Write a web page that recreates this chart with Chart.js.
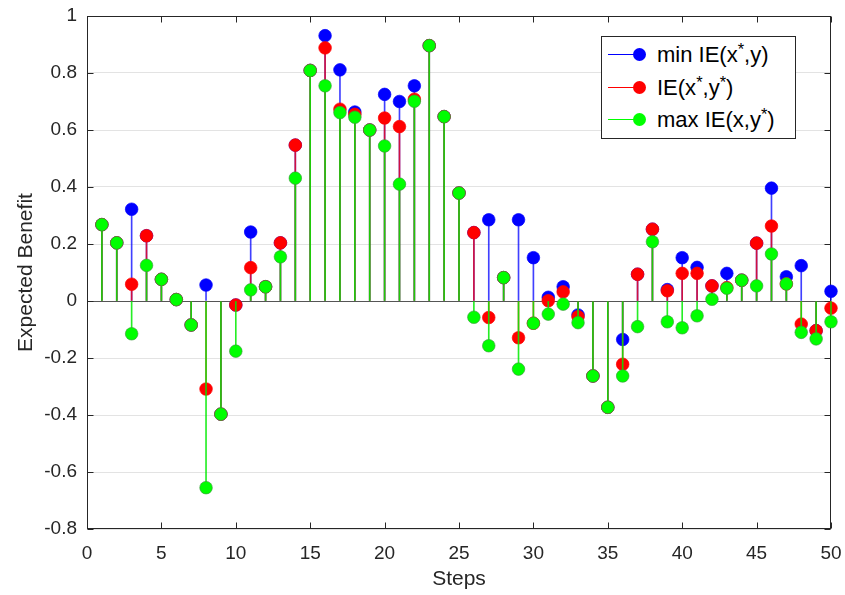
<!DOCTYPE html>
<html>
<head>
<meta charset="utf-8">
<script src="https://cdn.jsdelivr.net/npm/chart.js@4"></script>
<style>
  html, body { margin: 0; padding: 0; background: #fff; }
  #wrap { position: relative; width: 845px; height: 595px; }
  #legend {
    position: absolute; left: 601px; top: 36px; width: 193px; height: 101px;
    border: 1px solid #262626; background: #fff;
    font-family: "Liberation Sans", Arial, sans-serif; font-size: 22px; color: #000;
  }
  .row { position: absolute; left: 0; width: 100%; height: 32px; line-height: 32px; white-space: nowrap; }
  .sym { position: absolute; left: 6px; top: 15px; width: 31px; height: 1px; }
  .dot { position: absolute; left: 25px; top: -6px; width: 13px; height: 13px; border-radius: 50%; }
  .lbl { position: absolute; left: 55px; top: 0; }
  sup { font-size: 0.75em; vertical-align: 0; position: relative; top: -0.45em; }
</style>
</head>
<body>
<div id="wrap">
  <canvas id="chart" width="845" height="595"></canvas>
  <div id="legend">
    <div class="row" style="top:2px"><div class="sym" style="background:#0000ff"><div class="dot" style="background:#0000ff"></div></div><span class="lbl">min IE(x<sup>*</sup>,y)</span></div>
    <div class="row" style="top:35px"><div class="sym" style="background:#ff0000"><div class="dot" style="background:#ff0000"></div></div><span class="lbl">IE(x<sup>*</sup>,y<sup>*</sup>)</span></div>
    <div class="row" style="top:67px"><div class="sym" style="background:#00ff00"><div class="dot" style="background:#00ff00"></div></div><span class="lbl">max IE(x,y<sup>*</sup>)</span></div>
  </div>
</div>
<script>
// Steps of the game
const steps = [1, 2, 3, 4, 5, 6, 7, 8, 9, 10,
               11, 12, 13, 14, 15, 16, 17, 18, 19, 20,
               21, 22, 23, 24, 25, 26, 27, 28, 29, 30,
               31, 32, 33, 34, 35, 36, 37, 38, 39, 40,
               41, 42, 43, 44, 45, 46, 47, 48, 49, 50];

// min IE(x*,y)
const minIE = [0.268, 0.204, 0.322, 0.229, 0.076, 0.005, -0.084, 0.056, -0.397, -0.014,
               0.242, 0.050, 0.204, 0.547, 0.809, 0.931, 0.811, 0.663, 0.600, 0.725,
               0.700, 0.755, 0.896, 0.647, 0.379, 0.240, 0.285, 0.082, 0.285, 0.152,
               0.013, 0.050, -0.049, -0.263, -0.373, -0.135, 0.094, 0.252, 0.040, 0.152,
               0.118, 0.053, 0.097, 0.073, 0.203, 0.396, 0.085, 0.124, -0.104, 0.034];

// IE(x*,y*)
const eqIE = [0.268, 0.204, 0.059, 0.229, 0.076, 0.005, -0.084, -0.309, -0.397, -0.014,
              0.117, 0.050, 0.204, 0.547, 0.809, 0.888, 0.673, 0.655, 0.600, 0.642,
              0.612, 0.708, 0.896, 0.647, 0.379, 0.240, -0.058, 0.082, -0.129, -0.078,
              0.001, 0.032, -0.055, -0.263, -0.373, -0.222, 0.094, 0.252, 0.036, 0.097,
              0.097, 0.053, 0.047, 0.073, 0.203, 0.263, 0.060, -0.081, -0.104, -0.025];

// max IE(x,y*)
const maxIE = [0.268, 0.204, -0.115, 0.125, 0.076, 0.005, -0.084, -0.655, -0.397, -0.176,
               0.039, 0.050, 0.155, 0.431, 0.809, 0.755, 0.661, 0.645, 0.600, 0.544,
               0.410, 0.701, 0.896, 0.647, 0.379, -0.057, -0.157, 0.082, -0.239, -0.078,
               -0.046, -0.011, -0.076, -0.263, -0.373, -0.263, -0.090, 0.208, -0.073, -0.094,
               -0.052, 0.006, 0.045, 0.073, 0.053, 0.165, 0.060, -0.110, -0.133, -0.073];

const xTicks = [0, 5, 10, 15, 20, 25, 30, 35, 40, 45, 50];
const yTicks = [-0.8, -0.6, -0.4, -0.2, 0, 0.2, 0.4, 0.6, 0.8, 1];

const FONT = '"Liberation Sans", Arial, sans-serif';
const AXIS = '#262626';

const pts = vals => steps.map((s, i) => ({ x: s, y: vals[i] }));

function stem(vals, color, order) {
  return {
    type: 'bar', data: pts(vals), backgroundColor: color, borderWidth: 0,
    barThickness: 1, grouped: false, order: order, clip: false
  };
}
function marks(vals, color, edge, order) {
  return {
    type: 'scatter', data: pts(vals), backgroundColor: color, borderColor: edge,
    borderWidth: 0.7, pointRadius: 6.3, pointHoverRadius: 6.3, order: order, clip: false
  };
}

// axes box with inward tick marks on all four sides
const frame = {
  id: 'frame',
  beforeDatasetsDraw(chart) {
    const { ctx, chartArea: a, scales } = chart;
    ctx.save();
    ctx.strokeStyle = AXIS;
    ctx.lineWidth = 1;
    const L = Math.round(a.left) + 0.5, R = Math.round(a.right) - 0.5;
    const T = Math.round(a.top) + 0.5, B = Math.round(a.bottom) - 0.5;
    ctx.strokeRect(L, T, R - L, B - T);
    ctx.beginPath();
    const len = 6;
    xTicks.forEach(v => {
      const px = Math.round(scales.x.getPixelForValue(v)) + 0.5;
      ctx.moveTo(px, B); ctx.lineTo(px, B - len);
      ctx.moveTo(px, T); ctx.lineTo(px, T + len);
    });
    yTicks.forEach(v => {
      const py = Math.round(scales.y.getPixelForValue(v)) + 0.5;
      ctx.moveTo(L, py); ctx.lineTo(L + len, py);
      ctx.moveTo(R, py); ctx.lineTo(R - len, py);
    });
    ctx.stroke();
    ctx.restore();
  }
};

new Chart(document.getElementById('chart'), {
  type: 'bar',
  data: {
    datasets: [
      stem(minIE, 'rgba(0,0,255,0.75)', 6),
      marks(minIE, '#0000ff', '#0000ff', 5),
      stem(eqIE, 'rgba(255,0,0,0.75)', 4),
      marks(eqIE, '#ff0000', '#ff0000', 3),
      stem(maxIE, 'rgba(0,235,0,0.85)', 2),
      marks(maxIE, '#00ff00', 'rgba(60,150,60,0.9)', 1)
    ]
  },
  options: {
    responsive: false,
    animation: false,
    events: [],
    layout: { padding: { top: 16, right: 14, left: 0, bottom: 0 } },
    plugins: { legend: { display: false }, tooltip: { enabled: false } },
    scales: {
      x: {
        type: 'linear', min: 0, max: 50, offset: false,
        afterFit: s => { s.height = 66; s.paddingLeft = 0; s.paddingRight = 0; },
        afterBuildTicks: s => { s.ticks = xTicks.map(v => ({ value: v })); },
        ticks: { font: { family: FONT, size: 19 }, color: AXIS, padding: 5, maxRotation: 0 },
        grid: { display: false, offset: false },
        border: { display: false },
        title: { display: true, text: 'Steps', font: { family: FONT, size: 21 }, color: AXIS,
                 padding: { top: 0, bottom: 3 } }
      },
      y: {
        type: 'linear', min: -0.8, max: 1,
        afterFit: s => { s.width = 87; s.paddingTop = 0; s.paddingBottom = 0; },
        afterBuildTicks: s => { s.ticks = yTicks.map(v => ({ value: v })); },
        ticks: { font: { family: FONT, size: 19 }, color: AXIS, padding: 10,
                 callback: v => String(Number(v.toFixed(1))) },
        grid: {
          drawTicks: false,
          color: c => (c.tick && Math.abs(c.tick.value) < 1e-9) ? '#555555' : '#e3e3e3',
          lineWidth: 1
        },
        border: { display: false },
        title: { display: true, text: 'Expected Benefit', font: { family: FONT, size: 21 }, color: AXIS,
                 padding: { top: 14, bottom: 0 } }
      }
    }
  },
  plugins: [frame]
});
</script>
</body>
</html>
